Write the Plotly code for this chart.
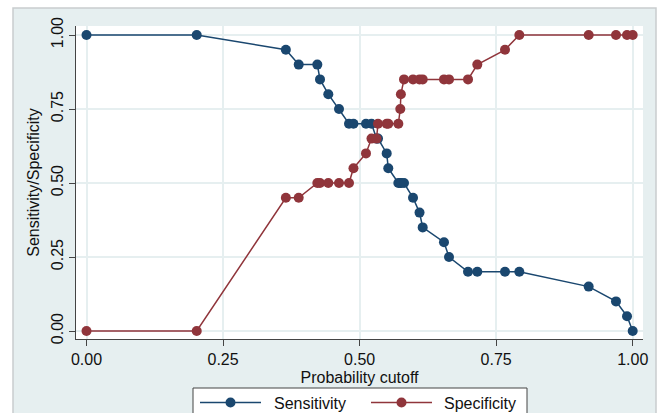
import plotly.graph_objects as go

# Probability cutoffs (shared by both curves)
cutoff = [0.000, 0.2018, 0.365, 0.3885, 0.4226, 0.4275, 0.4427, 0.4623, 0.4806,
          0.4888, 0.5117, 0.5218, 0.531, 0.5337, 0.5496, 0.5525, 0.5709, 0.5745,
          0.5756, 0.5813, 0.5978, 0.6097, 0.6155, 0.6545, 0.6637, 0.6985, 0.7155,
          0.7662, 0.7924, 0.9194, 0.9694, 0.9896, 1.000]
sensitivity = [1.00, 1.00, 0.95, 0.90, 0.90, 0.85, 0.80, 0.75, 0.70,
               0.70, 0.70, 0.70, 0.65, 0.65, 0.60, 0.55, 0.50, 0.50,
               0.50, 0.50, 0.45, 0.40, 0.35, 0.30, 0.25, 0.20, 0.20,
               0.20, 0.20, 0.15, 0.10, 0.05, 0.00]
specificity = [0.00, 0.00, 0.45, 0.45, 0.50, 0.50, 0.50, 0.50, 0.50,
               0.55, 0.60, 0.65, 0.65, 0.70, 0.70, 0.70, 0.70, 0.75,
               0.80, 0.85, 0.85, 0.85, 0.85, 0.85, 0.85, 0.85, 0.90,
               0.95, 1.00, 1.00, 1.00, 1.00, 1.00]
tick_vals = [0, 0.25, 0.5, 0.75, 1.0]
tick_text = ["0.00", "0.25", "0.50", "0.75", "1.00"]
series_names = ["Sensitivity", "Specificity"]

NAVY = "#1a476f"
MAROON = "#90353b"
BG = "#e6eff0"
FONT = "Liberation Sans"
TXT = "#111111"

fig = go.Figure()
fig.add_trace(go.Scatter(x=cutoff, y=sensitivity, mode="lines+markers", name=series_names[0],
                         line=dict(color=NAVY, width=1.5),
                         marker=dict(color=NAVY, size=10, symbol="circle"),
                         showlegend=False))
fig.add_trace(go.Scatter(x=cutoff, y=specificity, mode="lines+markers", name=series_names[1],
                         line=dict(color=MAROON, width=1.5),
                         marker=dict(color=MAROON, size=10, symbol="circle"),
                         showlegend=False))

W, H = 661, 413
L, R, T, B = 76, 18, 26, 74
pw = W - L - R
ph = H - T - B


def px_x(p):
    return (p - L) / pw


def px_y(p):
    return (H - B - p) / ph


def prect(x0, y0, x1, y1, **kw):
    fig.add_shape(type="rect", xref="paper", yref="paper",
                  x0=px_x(x0), x1=px_x(x1), y0=px_y(y1), y1=px_y(y0), **kw)


# white strips outside the graph frame (paper itself is the bluish-gray graph region)
prect(0, 0, W, 8, fillcolor="white", line=dict(width=0), layer="above")
prect(0, 0, 13, H, fillcolor="white", line=dict(width=0), layer="above")
prect(656, 0, W, H, fillcolor="white", line=dict(width=0), layer="above")
prect(13, 8, 656, 440, fillcolor="rgba(0,0,0,0)", line=dict(color="#c9cdce", width=1.5),
      layer="above")

# legend (drawn as layout decoration)
LEG_Y = 402.5
prect(193, 388, 527, 440, fillcolor="white", line=dict(color="#444444", width=1), layer="above")
legend_items = [(NAVY, 200, 261, 272), (MAROON, 371, 432, 442)]
for (col, lx0, lx1, tx), name in zip(legend_items, series_names):
    fig.add_shape(type="line", xref="paper", yref="paper",
                  x0=px_x(lx0), x1=px_x(lx1), y0=px_y(LEG_Y), y1=px_y(LEG_Y),
                  line=dict(color=col, width=1.5), layer="above")
    cx = (lx0 + lx1) / 2
    prect(cx - 5, LEG_Y - 5, cx + 5, LEG_Y + 5, line=dict(width=0), layer="above")
    fig.layout.shapes[-1].update(type="circle", fillcolor=col)
    fig.add_annotation(xref="paper", yref="paper", x=px_x(tx), y=px_y(LEG_Y + 0.5),
                       xanchor="left", yanchor="middle", showarrow=False, text=name,
                       font=dict(family=FONT, size=16, color=TXT))

axis_common = dict(
    tickvals=tick_vals, ticktext=tick_text,
    showgrid=True, gridcolor=BG, gridwidth=1.6,
    showline=True, linecolor="#444444", linewidth=1,
    ticks="outside", ticklen=6, tickcolor="#444444", tickwidth=1,
    zeroline=False,
    tickfont=dict(family=FONT, size=16, color=TXT),
)

fig.update_xaxes(range=[(L - 86.5) / 546.2, (W - R - 86.5) / 546.2],
                 title=dict(text="Probability cutoff", standoff=4,
                            font=dict(family=FONT, size=16, color=TXT)),
                 **axis_common)
fig.update_yaxes(range=[-(H - B - 331) / 296, (331 - T) / 296],
                 tickangle=-90,
                 title=dict(text="Sensitivity/Specificity", standoff=4,
                            font=dict(family=FONT, size=16, color=TXT)),
                 **axis_common)

fig.update_layout(
    width=W, height=H,
    margin=dict(l=L, r=R, t=T, b=B, autoexpand=False),
    paper_bgcolor=BG,
    plot_bgcolor="white",
    showlegend=False,
    font=dict(family=FONT),
)

fig.write_html("out.html")
